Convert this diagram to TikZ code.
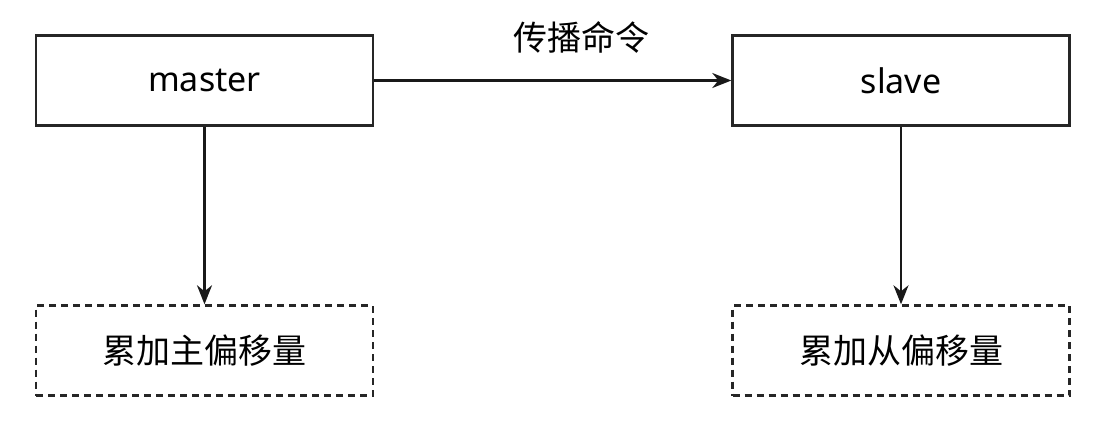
\documentclass[tikz,border=0pt]{standalone}
\usepackage{fontspec}
\setmainfont{Noto Sans}
\newfontfamily\cjk{Noto Sans CJK SC}
\usetikzlibrary{arrows.meta}
\begin{document}
\begin{tikzpicture}[x=1pt,y=-1pt,
  solidbox/.style={draw=black!85, line width=2.4pt, minimum width=337pt, minimum height=90pt, inner sep=0pt, font=\fontsize{34}{40}\selectfont},
  dashbox/.style={solidbox, dash pattern=on 7pt off 5pt},
  conn/.style={draw=black!90, line width=2.2pt, -{Stealth[length=19pt,width=15pt,inset=6pt]}},
  lbl/.style={font=\cjk\fontsize{34}{40}\selectfont, inner sep=0pt}]
\useasboundingbox (0,0) rectangle (1102,421);
\node[solidbox] (master) at (204.5,80.5) {master};
\node[solidbox] (slave) at (901,80.5) {slave};
\node[dashbox, font=\cjk\fontsize{34}{40}\selectfont] (lsum) at (204.5,350.5) {累加主偏移量};
\node[dashbox, font=\cjk\fontsize{34}{40}\selectfont] (rsum) at (901,350.5) {累加从偏移量};
\draw[conn] (master) -- (slave) node[midway, lbl, yshift=43pt, xshift=29pt] (cmd) {传播命令};
\draw[conn] (master) -- (lsum);
\draw[conn] (slave) -- (rsum);
\end{tikzpicture}
\end{document}
